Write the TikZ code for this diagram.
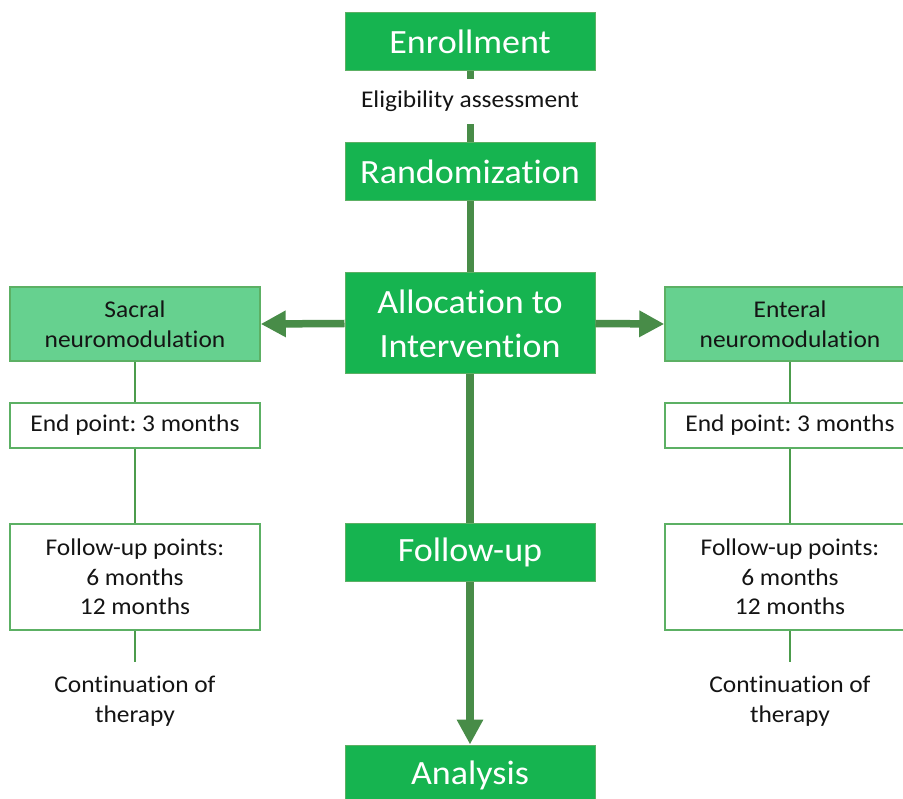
\documentclass[tikz,border=0pt]{standalone}
\usepackage{fontspec}
\setmainfont[FakeStretch=1.06,RawFeature={-liga;-calt;-clig}]{Carlito}
\frenchspacing
\usetikzlibrary{arrows.meta,backgrounds}
\definecolor{maingreen}{RGB}{22,180,80}
\definecolor{lightgreen}{RGB}{102,209,143}
\definecolor{linegreen}{RGB}{72,140,72}
\definecolor{thingreen}{RGB}{76,156,76}
\definecolor{bordergreen}{RGB}{92,176,100}
\definecolor{textgray}{RGB}{20,20,20}
\tikzset{
  mainbox/.style={fill=maingreen, draw=bordergreen, line width=1pt, text=white,
    minimum width=250pt, inner sep=0pt, align=center,
    font=\fontsize{34}{44}\selectfont},
  armbox/.style={fill=lightgreen, draw=bordergreen, line width=1.5pt, text=textgray,
    minimum width=250pt, minimum height=74pt, inner sep=0pt, align=center,
    font=\fontsize{24}{30}\selectfont},
  whitebox/.style={fill=white, draw=bordergreen, line width=1.5pt, text=textgray,
    minimum width=250pt, inner sep=0pt, align=center,
    font=\fontsize{24}{29.5}\selectfont},
  plaintext/.style={text=textgray, inner sep=0pt, align=center,
    font=\fontsize{24}{30}\selectfont},
  thickline/.style={draw=linegreen, line width=7pt},
  thinline/.style={draw=thingreen, line width=2.5pt},
  bigarrow/.style={draw=linegreen, fill=linegreen, line width=7.5pt,
    -{Triangle[width=25pt,length=25pt]}}
}
\begin{document}
\begin{tikzpicture}[x=1pt,y=-1pt]
\useasboundingbox (0,0) rectangle (903,799);
\clip (0,0) rectangle (903,799);
% central column
\node[mainbox, minimum height=58pt] (enr) at (470,42) {Enrollment};
\node[plaintext, minimum height=45pt] (elig) at (470,101.5) {Eligibility assessment};
\node[mainbox, minimum height=58pt] (rand) at (470,172) {Randomization};
\node[mainbox, minimum height=101pt] (alloc) at (470,323.5) {Allocation to\\Intervention};
\node[mainbox, minimum height=57pt] (fup) at (470,552.5) {Follow-up};
\node[mainbox, minimum height=60pt] (ana) at (470,775) {Analysis};
% left arm
\node[armbox] (sac) at (135,324) {Sacral\\neuromodulation};
\node[whitebox, minimum height=45pt] (ep1) at (135,425.5) {End point: 3 months};
\node[whitebox, minimum height=106pt] (fu1) at (135,577) {Follow-up points:\\6 months\\12 months};
\coordinate (c1) at (135,662);
\node[plaintext] (cont1) at (135,701) {Continuation of\\therapy};
% right arm
\node[armbox] (ent) at (790,324) {Enteral\\neuromodulation};
\node[whitebox, minimum height=45pt] (ep2) at (790,425.5) {End point: 3 months};
\node[whitebox, minimum height=106pt] (fu2) at (790,577) {Follow-up points:\\6 months\\12 months};
\coordinate (c2) at (790,662);
\node[plaintext] (cont2) at (790,701) {Continuation of\\therapy};
% connectors
\begin{scope}[on background layer]
\fill[white] (0,0) rectangle (903,799);
\draw[thickline] (enr.south) -- (elig.north);
\draw[thickline] (elig.south) -- (rand.north);
\draw[thickline] (rand.south) -- (alloc.north);
\draw[bigarrow] (alloc.south) -- (ana.north);
\draw[thinline] (sac.south) -- (ep1.north);
\draw[thinline] (ep1.south) -- (fu1.north);
\draw[thinline] (fu1.south) -- (c1);
\draw[thinline] (ent.south) -- (ep2.north);
\draw[thinline] (ep2.south) -- (fu2.north);
\draw[thinline] (fu2.south) -- (c2);
\end{scope}
\draw[bigarrow] (alloc.west) -- (sac.east);
\draw[bigarrow] (alloc.east) -- (ent.west);
\end{tikzpicture}
\end{document}
